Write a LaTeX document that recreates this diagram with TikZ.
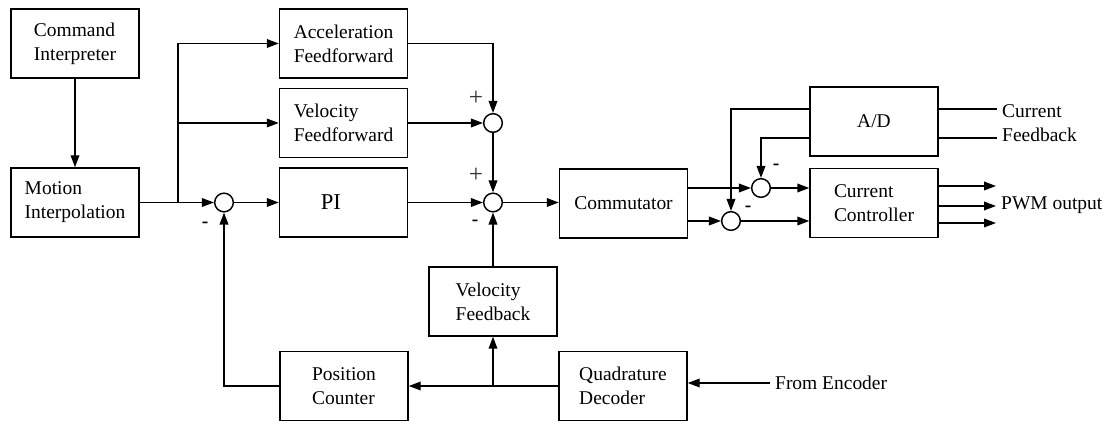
\documentclass[tikz,border=0pt]{standalone}
\usepackage{fontspec}
\setmainfont{Liberation Serif}
\usetikzlibrary{arrows.meta}
\tikzset{
  blk/.style={draw, line width=1.1pt, minimum width=96pt, minimum height=51.75pt, align=left, inner sep=2pt},
  sum/.style={draw, circle, line width=1.1pt, minimum size=14pt, inner sep=0pt},
  sgn/.style={inner sep=0pt},
  pls/.style={inner sep=0pt, font=\fontsize{19pt}{20pt}\selectfont, text=black!80},
  every node/.append style={font=\fontsize{14.6pt}{18pt}\selectfont},
  >={Triangle[length=9pt,width=6.5pt]}
}
\begin{document}
\begin{tikzpicture}[x=0.75pt,y=-0.75pt,line width=1.1pt]
  \useasboundingbox (0,0) rectangle (1106,423);
  % blocks
  \node[blk] (ci) at (75,43.5) {Command\\Interpreter};
  \node[blk] (mi) at (75,202.5) {Motion\\Interpolation};
  \node[blk] (aff) at (343.5,43.5) {Acceleration\\Feedforward};
  \node[blk] (vff) at (343.5,123) {Velocity\\Feedforward};
  \node[blk, font=\fontsize{17pt}{18pt}\selectfont] (pi) at (343.5,202.5) {PI\hspace*{19pt}};
  \node[blk] (cm) at (623.5,203.5) {Commutator};
  \node[blk] (ad) at (874,121.5) {A/D};
  \node[blk] (cc) at (874,203) {Current\\Controller};
  \node[blk] (vfb) at (493,301.5) {Velocity\\Feedback};
  \node[blk] (pc) at (344,386) {Position\\Counter};
  \node[blk] (qd) at (623,386) {Quadrature\\Decoder};
  % summing junctions
  \node[sum] (s1) at (224,202.5) {};
  \node[sum] (s2) at (493,123) {};
  \node[sum] (s3) at (493,202.5) {};
  \node[sum] (s4) at (761,188) {};
  \node[sum] (s5) at (731,221) {};
  % signs
  \node[pls] (p2) at (476,98) {+};
  \node[pls] (p3) at (476,175) {+};
  \node[sgn] (m3) at (475,223) {\textbf{-}};
  \node[sgn] (m1) at (205,225) {\textbf{-}};
  \node[sgn] (m4) at (776,167) {\textbf{-}};
  \node[sgn] (m5) at (748,209) {\textbf{-}};
  % outside texts
  \node[anchor=west, align=left] (fb) at (997,123.5) {Current\\Feedback};
  \node[anchor=west] (pwm) at (996,205) {PWM output};
  \node[anchor=west] (enc) at (770,383) {From Encoder};
  \coordinate (br) at (178,202.5);
  % connectors
  \draw [->] (ci) -- (mi);
  \draw (mi) -- (br);
  \draw [->] (br) -- (s1);
  \draw [->] (br) |- (aff);
  \draw [->] (br) |- (vff);
  \draw [->] (s1) -- (pi);
  \draw [->] (aff) -| (s2);
  \draw [->] (vff) -- (s2);
  \draw [->] (s2) -- (s3);
  \draw [->] (pi) -- (s3);
  \draw [->] (s3) -- (s3 -| cm.west);
  \draw [->] (vfb) -- (s3);
  \draw [->] (enc.west) -- (qd.east |- enc.west);
  \draw [->] (qd) -- (pc);
  \draw [->] (vfb.south |- pc.east) -- (vfb);
  \draw [->] (pc) -| (s1);
  \draw [->] (cm.east |- s4) -- (s4);
  \draw [->] (cm.east |- s5) -- (s5);
  \draw [->] ([yshift=9.4pt]ad.west) -| (s5);
  \draw [->] ([yshift=-12.4pt]ad.west) -| (s4);
  \draw [->] (s4) -- (s4 -| cc.west);
  \draw [->] (s5) -- (s5 -| cc.west);
  \draw ([yshift=9.4pt]ad.east) -- ([yshift=9.4pt]ad.east -| fb.west);
  \draw ([yshift=-12.4pt]ad.east) -- ([yshift=-12.4pt]ad.east -| fb.west);
  \foreach \dy in {12.75pt,-2.25pt,-15pt}
    \draw [->] ([yshift=\dy]cc.east) -- ([yshift=\dy]cc.east -| pwm.west);
\end{tikzpicture}
\end{document}
